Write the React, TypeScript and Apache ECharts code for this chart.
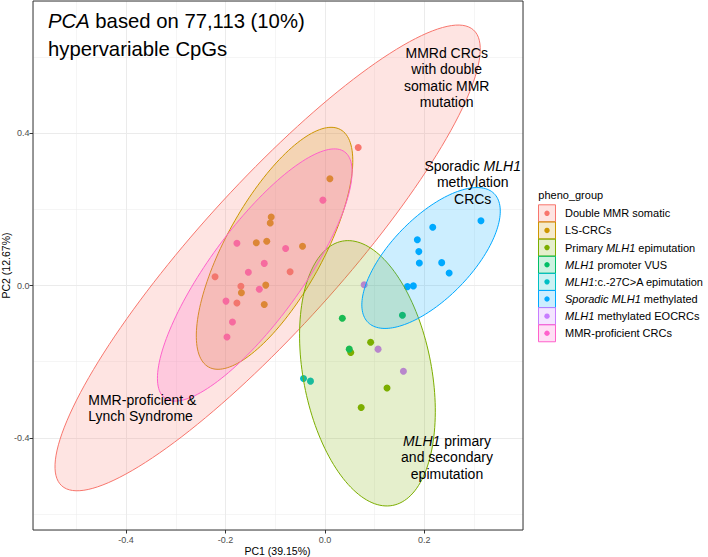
import React, { useEffect, useRef } from "react";
import * as echarts from "echarts";

const FONT = "'Liberation Sans', Arial, Helvetica, sans-serif";

// ---- groups ----
const groupNames = [
  "Double MMR somatic",
  "LS-CRCs",
  "Primary MLH1 epimutation",
  "MLH1 promoter VUS",
  "MLH1:c.-27C>A epimutation",
  "Sporadic MLH1 methylated",
  "MLH1 methylated EOCRCs",
  "MMR-proficient CRCs",
];
const groupLegendRich = [
  "Double MMR somatic",
  "LS-CRCs",
  "Primary {i|MLH1} epimutation",
  "{i|MLH1} promoter VUS",
  "{i|MLH1}:c.-27C>A epimutation",
  "{i|Sporadic MLH1} methylated",
  "{i|MLH1} methylated EOCRCs",
  "MMR-proficient CRCs",
];
const groupColors = ["#F8766D", "#CD9600", "#7CAE00", "#00BE67", "#00BFC4", "#00A9FF", "#C77CFF", "#FF61CC"];

// ---- sample scores [PC1, PC2] ----
const doubleMmrSomatic = [[0.067, 0.362], [-0.070, 0.036], [-0.221, 0.023], [-0.169, -0.002], [-0.177, -0.046]];
const lsCrcs = [[0.010, 0.280], [-0.108, 0.180], [-0.110, 0.164], [-0.138, 0.112], [-0.117, 0.116], [-0.045, 0.103], [-0.119, 0.001], [-0.168, -0.019], [-0.122, -0.050]];
const primaryEpimutation = [[0.092, -0.149], [0.052, -0.176], [0.125, -0.269], [0.073, -0.320]];
const promoterVus = [[0.035, -0.086], [0.156, -0.078], [0.049, -0.167]];
const c27Epimutation = [[-0.043, -0.244], [-0.029, -0.251]];
const sporadicMethylated = [[0.314, 0.170], [0.217, 0.153], [0.186, 0.120], [0.189, 0.089], [0.190, 0.059], [0.235, 0.060], [0.250, 0.033], [0.166, -0.003], [0.178, -0.001]];
const methylatedEocrcs = [[0.079, 0.002], [0.107, -0.167], [0.158, -0.225]];
const mmrProficient = [[-0.004, 0.224], [-0.177, 0.111], [-0.079, 0.097], [-0.122, 0.058], [-0.154, 0.035], [-0.132, -0.010], [-0.199, -0.041], [-0.186, -0.096], [-0.197, -0.135]];
const groupPoints = [doubleMmrSomatic, lsCrcs, primaryEpimutation, promoterVus, c27Epimutation, sporadicMethylated, methylatedEocrcs, mmrProficient];

// ---- 95% ellipses (data units): group, centre, major & minor semi-axis vectors ----
const ellipseGroup = [0, 1, 2, 5, 7];
const ellipseCenter = [[-0.1152, 0.0724], [-0.1013, 0.0976], [0.0856, -0.2304], [0.2136, 0.0722], [-0.1411, 0.0276]];
const ellipseMajor = [[0.4143, 0.5981], [0.1327, 0.3116], [-0.0507, 0.3468], [0.1265, 0.1695], [0.1808, 0.3232]];
const ellipseMinor = [[0.1068, -0.1258], [0.0847, -0.0613], [0.1268, 0.0315], [0.0583, -0.0739], [0.0752, -0.0714]];

// ---- axes ----
const xRange = [-0.5873, 0.3986];
const yRange = [-0.6417, 0.7467];
const xTicks = [-0.4, -0.2, 0, 0.2];
const yTicks = [-0.4, 0, 0.4];
const xTitle = "PC1 (39.15%)";
const yTitle = "PC2 (12.67%)";

function rgba(hex: string, a: number) {
  const n = parseInt(hex.slice(1), 16);
  return `rgba(${(n >> 16) & 255},${(n >> 8) & 255},${n & 255},${a})`;
}

const italic = (size: number, color = "#000") => ({
  i: { fontStyle: "italic", fontSize: size, fontFamily: FONT, fill: color },
  n: { fontSize: size, fontFamily: FONT, fill: color },
});

export default function App() {
  const ref = useRef<HTMLDivElement>(null);
  useEffect(() => {
    const chart = echarts.init(ref.current!, null, { renderer: "svg" });

    const annot = (x: number, y: number, text: string, align: string, lh: number) => ({
      type: "text",
      x,
      y,
      z: 50,
      style: {
        text,
        fontSize: 14,
        fontFamily: FONT,
        fill: "#000",
        align,
        verticalAlign: "top",
        lineHeight: lh,
        rich: italic(14),
      },
    });

    const legendItems: any[] = [];
    const lx = 538.5;
    groupNames.forEach((_, i) => {
      const cy = 213.3 + i * 17.14;
      legendItems.push({
        type: "rect",
        shape: { x: lx, y: cy - 8.5, width: 17, height: 17 },
        style: { fill: rgba(groupColors[i], 0.2), stroke: groupColors[i], lineWidth: 1 },
      });
      legendItems.push({
        type: "circle",
        shape: { cx: lx + 8.5, cy, r: 2.7 },
        style: { fill: groupColors[i] },
      });
      legendItems.push({
        type: "text",
        x: 565,
        y: cy,
        style: {
          text: groupLegendRich[i],
          fontSize: 11,
          fontFamily: FONT,
          fill: "#000",
          verticalAlign: "middle",
          rich: italic(11),
        },
      });
    });

    const tickLabel = { fontSize: 9, fontFamily: FONT, color: "#4D4D4D" };

    const option: any = {
      animation: false,
      textStyle: { fontFamily: FONT },
      grid: { left: 33, top: 1, right: 185, bottom: 27, containLabel: false, outerBoundsMode: "none" },
      xAxis: [
        {
          type: "value",
          min: xRange[0],
          max: xRange[1],
          splitNumber: 5,
          minInterval: 0.2,
          maxInterval: 0.2,
          axisLine: { show: false, onZero: false },
          axisTick: { show: true, length: 3.5, lineStyle: { color: "#333" }, customValues: xTicks },
          axisLabel: { ...tickLabel, margin: 5, customValues: xTicks, formatter: (v: number) => v.toFixed(1) },
          splitLine: { show: true, lineStyle: { color: "#EBEBEB", width: 1 } },
        },
        {
          type: "value",
          min: xRange[0],
          max: xRange[1],
          splitNumber: 10,
          minInterval: 0.1,
          maxInterval: 0.1,
          axisLine: { show: false, onZero: false },
          axisTick: { show: false },
          axisLabel: { show: false },
          splitLine: { show: true, lineStyle: { color: "#EBEBEB", width: 0.5 } },
        },
      ],
      yAxis: [
        {
          type: "value",
          min: yRange[0],
          max: yRange[1],
          splitNumber: 3,
          minInterval: 0.4,
          maxInterval: 0.4,
          axisLine: { show: false, onZero: false },
          axisTick: { show: true, length: 3.5, lineStyle: { color: "#333" }, customValues: yTicks },
          axisLabel: { ...tickLabel, margin: 3.5, customValues: yTicks, formatter: (v: number) => v.toFixed(1) },
          splitLine: { show: true, lineStyle: { color: "#EBEBEB", width: 1 } },
        },
        {
          type: "value",
          min: yRange[0],
          max: yRange[1],
          splitNumber: 7,
          minInterval: 0.2,
          maxInterval: 0.2,
          axisLine: { show: false, onZero: false },
          axisTick: { show: false },
          axisLabel: { show: false },
          splitLine: { show: true, lineStyle: { color: "#EBEBEB", width: 0.5 } },
        },
      ],
      series: [
        ...groupPoints.map((pts, i) => ({
          type: "scatter",
          name: groupNames[i],
          xAxisIndex: 0,
          yAxisIndex: 0,
          data: pts,
          symbol: "circle",
          symbolSize: 7,
          z: 2,
          itemStyle: { color: groupColors[i], opacity: 1 },
          emphasis: { disabled: true },
          silent: true,
        })),
        {
          type: "custom",
          xAxisIndex: 0,
          yAxisIndex: 0,
          z: 3,
          silent: true,
          clip: false,
          data: ellipseCenter.map((c, k) => [c[0], c[1], k]),
          encode: { x: 0, y: 1 },
          renderItem: (_params: any, api: any) => {
            const k = api.value(2) as number;
            const [cx, cy] = ellipseCenter[k];
            const [ux, uy] = ellipseMajor[k];
            const [vx, vy] = ellipseMinor[k];
            const col = groupColors[ellipseGroup[k]];
            const points: number[][] = [];
            const N = 160;
            for (let j = 0; j < N; j++) {
              const t = (j / N) * Math.PI * 2;
              const c = Math.cos(t);
              const s = Math.sin(t);
              points.push(api.coord([cx + ux * c + vx * s, cy + uy * c + vy * s]));
            }
            return {
              type: "polygon",
              shape: { points },
              style: { fill: rgba(col, 0.2), stroke: col, lineWidth: 1 },
            };
          },
        },
      ],
      graphic: [
        {
          type: "rect",
          z: 100,
          shape: { x: 33, y: 1, width: 490, height: 529 },
          style: { fill: "none", stroke: "#333333", lineWidth: 1 },
        },
        {
          type: "text",
          x: 277.5,
          y: 551,
          style: { text: xTitle, fontSize: 10.5, fontFamily: FONT, fill: "#000", align: "center", verticalAlign: "middle" },
        },
        {
          type: "text",
          x: 6,
          y: 265.5,
          rotation: Math.PI / 2,
          style: { text: yTitle, fontSize: 10.5, fontFamily: FONT, fill: "#000", align: "center", verticalAlign: "middle" },
        },
        {
          type: "text",
          x: 48,
          y: 6.5,
          z: 50,
          style: {
            text: "{i|PCA} based on 77,113 (10%)\nhypervariable CpGs",
            fontSize: 20.3,
            fontFamily: FONT,
            fill: "#000",
            lineHeight: 28,
            verticalAlign: "top",
            rich: italic(20.3),
          },
        },
        annot(446.7, 45.2, "MMRd CRCs\nwith double\nsomatic MMR\nmutation", "center", 16.2),
        annot(472.7, 157.4, "Sporadic {i|MLH1}\nmethylation\nCRCs", "center", 16.6),
        annot(88.3, 392, "MMR-proficient &\nLynch Syndrome", "left", 16),
        annot(447, 432.4, "{i|MLH1} primary\nand secondary\nepimutation", "center", 16.6),
        {
          type: "text",
          x: 538.3,
          y: 195,
          style: { text: "pheno_group", fontSize: 11, fontFamily: FONT, fill: "#000", verticalAlign: "middle" },
        },
        ...legendItems,
      ],
    };

    chart.setOption(option);
    return () => chart.dispose();
  }, []);

  return <div ref={ref} style={{ position: "absolute", left: 0, top: 0, width: 708, height: 557 }} />;
}
